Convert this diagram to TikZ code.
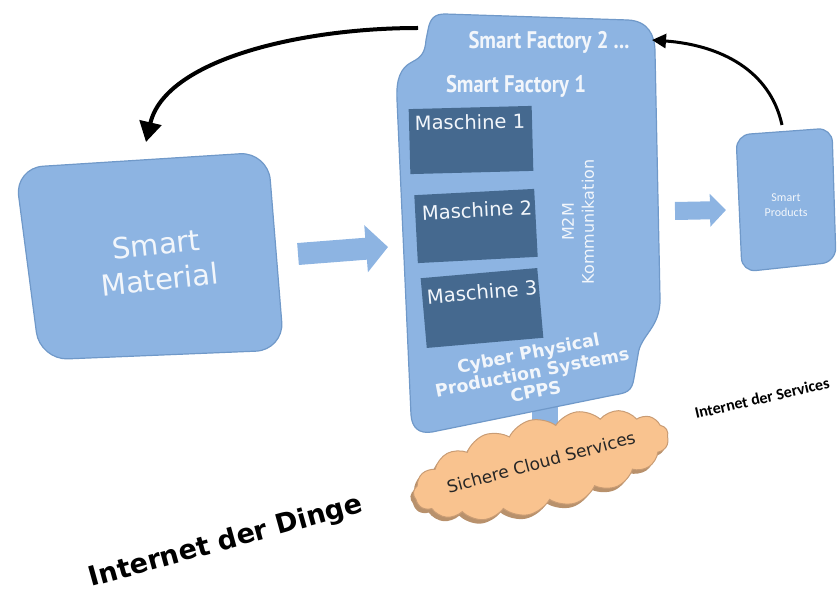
\documentclass[tikz,border=0pt]{standalone}
\usepackage{fontspec}
\setmainfont{DejaVu Sans}
\newfontfamily\carlitofont{Carlito}
\newfontfamily\ptfont{PT Sans}
\usetikzlibrary{shapes.symbols,arrows.meta}
\definecolor{boxblue}{HTML}{8DB4E2}
\definecolor{boxedge}{HTML}{7099C9}
\definecolor{machblue}{HTML}{45698F}
\definecolor{txtwhite}{HTML}{F2F6FB}
\definecolor{cloudfill}{HTML}{F9C38F}
\definecolor{cloudedge}{HTML}{C99C74}
\definecolor{cloudshadow}{HTML}{B8916C}
\tikzset{
  bluebox/.style={fill=boxblue, draw=boxedge, line width=1.2pt, rounded corners=26pt},
  machine/.style={fill=machblue, draw=none, minimum width=#1},
  machlabel/.style={text=txtwhite, font=\fontsize{19.5}{22}\selectfont, inner sep=0pt},
  whitetext/.style={text=txtwhite, inner sep=0pt, align=center},
  blockarrow/.style={draw=boxblue, line width=#1},
  curvearrow/.style={draw=black, line width=#1},
  cloudshape/.style={cloud, cloud puffs=17, cloud puff arc=100, aspect=3.0, minimum width=262pt, minimum height=92pt, rotate=14}
}
\begin{document}
\begin{tikzpicture}[x=1pt,y=-1pt]
\useasboundingbox (0,0) rectangle (840,601);

% Smart Material
\draw[bluebox, rounded corners=28pt] (15,168) -- (268,152) -- (284,350) -- (40,360) -- cycle;
\node[whitetext, font=\fontsize{29}{35}\selectfont, rotate=6] (mat) at (158,262) {Smart\\Material};

% Smart Products
\draw[bluebox, rounded corners=14pt] (736,135) -- (832,128) -- (836,262) -- (742,272) -- cycle;
\node[whitetext, font=\carlitofont\fontsize{12}{15}\selectfont] (prod) at (786,205) {Smart\\Products};

% stem to cloud
\fill[boxblue] (532,395) rectangle (558,436);

% Factory
\draw[fill=boxblue, draw=boxedge, line width=1.2pt]
  (445,14) -- (628,20) .. controls (648,21) and (655,35) .. (655,52)
  -- (660,298) .. controls (661,328) and (640,335) .. (638,355)
  -- (634,378) .. controls (632,392) and (626,393) .. (614,395)
  -- (432,432) .. controls (419,434) and (412,428) .. (411,415)
  -- (397,100) .. controls (396,80) and (400,68) .. (412,62)
  .. controls (422,57) and (425,52) .. (426,40)
  -- (428,30) .. controls (430,18) and (435,14) .. (445,14) -- cycle;

\node[whitetext, font=\ptfont\bfseries\fontsize{24}{28}\selectfont, xscale=0.86] (sf2) at (549,42) {Smart Factory 2 ...};
\node[whitetext, font=\ptfont\bfseries\fontsize{24}{28}\selectfont, xscale=0.86] (sf1) at (516,86) {Smart Factory 1};

% machines
\node[machine=123pt, minimum height=65pt, rotate=1.5] (m1) at (471,140) {};
\node[machine=120pt, minimum height=68pt, rotate=3] (m2) at (476,226) {};
\node[machine=117pt, minimum height=70pt, rotate=5] (m3) at (482,308) {};
\node[machlabel, rotate=1] (l1) at (470,122) {Maschine 1};
\node[machlabel, rotate=3] (l2) at (477,210) {Maschine 2};
\node[machlabel, rotate=5] (l3) at (482,292) {Maschine 3};

\node[whitetext, font=\fontsize{16}{20}\selectfont, rotate=90] (m2m) at (578,222) {M2M\\Kommunikation};

\node[whitetext, font=\bfseries\fontsize{17.5}{19.5}\selectfont, rotate=11] (cpps) at (532,372) {Cyber Physical\\Production Systems\\CPPS};

% cloud
\node[cloudshape, fill=cloudshadow] (cloudsh) at (538,469) {};
\node[cloudshape, fill=cloudfill, draw=cloudedge, line width=1pt] (cloud) at (541,465) {};
\node[text=black!85, font=\fontsize{17}{20}\selectfont, rotate=15, inner sep=0pt] (cloudtxt) at (541,462) {Sichere Cloud Services};

\node[font=\carlitofont\bfseries\fontsize{16}{18}\selectfont, rotate=13, inner sep=0pt] (ids) at (762,398) {Internet der Services};
\node[font=\bfseries\fontsize{27}{30}\selectfont, rotate=15.5, inner sep=0pt] (idd) at (226,542) {Internet der Dinge};

% block arrows
\coordinate (a1s) at (298,254);
\coordinate (a1e) at (388,247);
\draw[blockarrow=22pt, -{Triangle[length=22pt,width=46pt]}] (a1s) -- (a1e);
\coordinate (a2s) at (675,211);
\coordinate (a2e) at (726,210);
\draw[blockarrow=18pt, -{Triangle[length=16pt,width=32pt]}] (a2s) -- (a2e);

% curved arrows
\coordinate (f2l) at (418,28);
\coordinate (mattop) at (146,142);
\draw[curvearrow=4pt, -{Triangle[length=20pt,width=22pt]}] (f2l) .. controls (300,28) and (165,60) .. (mattop);
\coordinate (prodtop) at (782,125);
\coordinate (f2r) at (652,40);
\draw[curvearrow=3pt, -{Triangle[length=14pt,width=14pt]}] (prodtop) .. controls (770,70) and (720,45) .. (f2r);
\end{tikzpicture}
\end{document}
